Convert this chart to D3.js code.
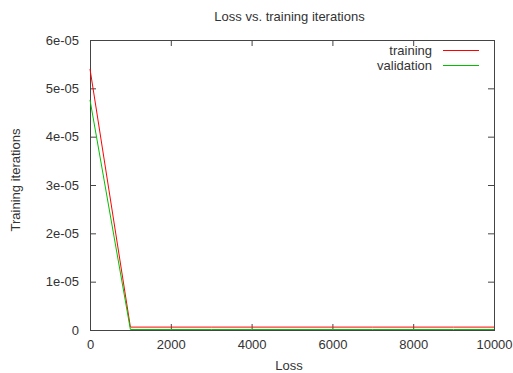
<!DOCTYPE html>
<html>
<head>
<meta charset="utf-8">
<script src="https://cdn.jsdelivr.net/npm/d3@7"></script>
<style>
  html, body { margin: 0; padding: 0; background: #fff; }
  svg { display: block; }
  text { font-family: "Liberation Sans", Arial, sans-serif; fill: #333; }
</style>
</head>
<body>
<svg id="chart" width="513" height="373"></svg>
<script>
// Iteration counts and loss values for the two curves
const iterations = [0, 1000, 2000, 3000, 4000, 5000, 6000, 7000, 8000, 9000, 10000];
const trainingLoss = [5.4e-05, 6e-07, 6e-07, 6e-07, 6e-07, 6e-07, 6e-07, 6e-07, 6e-07, 6e-07, 6e-07];
const validationLoss = [4.76e-05, 1e-07, 1e-07, 1e-07, 1e-07, 1e-07, 1e-07, 1e-07, 1e-07, 1e-07, 1e-07];
const xTicks = [0, 2000, 4000, 6000, 8000, 10000];
const yTicks = [0, 1e-05, 2e-05, 3e-05, 4e-05, 5e-05, 6e-05];
const yTickLabels = ["0", "1e-05", "2e-05", "3e-05", "4e-05", "5e-05", "6e-05"];
const seriesNames = ["training", "validation"];
const seriesColors = ["#ff0000", "#00c000"];

const svg = d3.select("#chart");
const m = { left: 90, right: 494, top: 40, bottom: 330 };
const fontSize = 13;

const x = d3.scaleLinear().domain([0, 10000]).range([m.left, m.right]);
const y = d3.scaleLinear().domain([0, 6e-05]).range([m.bottom, m.top]);

const tickLen = 6;
const axisColor = "#444";

// Bottom axis with labels, mirrored ticks on top
const xAxis = d3.axisBottom(x).tickValues(xTicks).tickSize(-tickLen).tickPadding(10)
  .tickFormat(d3.format("d"));
const gx = svg.append("g").attr("transform", `translate(0,${m.bottom})`).call(xAxis);
const gxTop = svg.append("g").attr("transform", `translate(0,${m.top})`)
  .call(d3.axisTop(x).tickValues(xTicks).tickSize(-tickLen).tickFormat(""));

// Left axis with labels, mirrored ticks on right
const yAxis = d3.axisLeft(y).tickValues(yTicks).tickSize(-tickLen).tickPadding(11)
  .tickFormat((d, i) => yTickLabels[i]);
const gy = svg.append("g").attr("transform", `translate(${m.left},0)`).call(yAxis);
const gyRight = svg.append("g").attr("transform", `translate(${m.right},0)`)
  .call(d3.axisRight(y).tickValues(yTicks).tickSize(-tickLen).tickFormat(""));

[gx, gxTop, gy, gyRight].forEach(g => {
  g.select(".domain").remove();
  g.selectAll(".tick line").attr("stroke", axisColor);
  g.selectAll(".tick text").attr("font-size", fontSize).attr("fill", "#333")
    .attr("font-family", "'Liberation Sans', Arial, sans-serif");
});

// Plot border
svg.append("rect")
  .attr("x", m.left + 0.5).attr("y", m.top + 0.5)
  .attr("width", m.right - m.left).attr("height", m.bottom - m.top)
  .attr("fill", "none").attr("stroke", axisColor).attr("stroke-width", 1);

// Curves
const series = [trainingLoss, validationLoss];
const line = d3.line().x((d, i) => x(iterations[i])).y(d => y(d));
series.forEach((vals, k) => {
  svg.append("path").datum(vals)
    .attr("d", line)
    .attr("fill", "none")
    .attr("stroke", seriesColors[k])
    .attr("stroke-width", 1);
});

// Legend
seriesNames.forEach((name, k) => {
  const ly = 50 + k * 15;
  svg.append("text").attr("x", 432).attr("y", ly + 4.5).attr("text-anchor", "end")
    .attr("font-size", fontSize).text(name);
  svg.append("line").attr("x1", 443).attr("x2", 479).attr("y1", ly + 0.5).attr("y2", ly + 0.5)
    .attr("stroke", seriesColors[k]).attr("stroke-width", 1);
});

// Title and axis labels
svg.append("text").attr("x", 289.5).attr("y", 21).attr("text-anchor", "middle")
  .attr("font-size", fontSize).text("Loss vs. training iterations");
svg.append("text").attr("x", 289).attr("y", 370).attr("text-anchor", "middle")
  .attr("font-size", fontSize).text("Loss");
svg.append("text").attr("transform", `translate(20,180) rotate(-90)`)
  .attr("text-anchor", "middle").attr("font-size", fontSize).text("Training iterations");
</script>
</body>
</html>
